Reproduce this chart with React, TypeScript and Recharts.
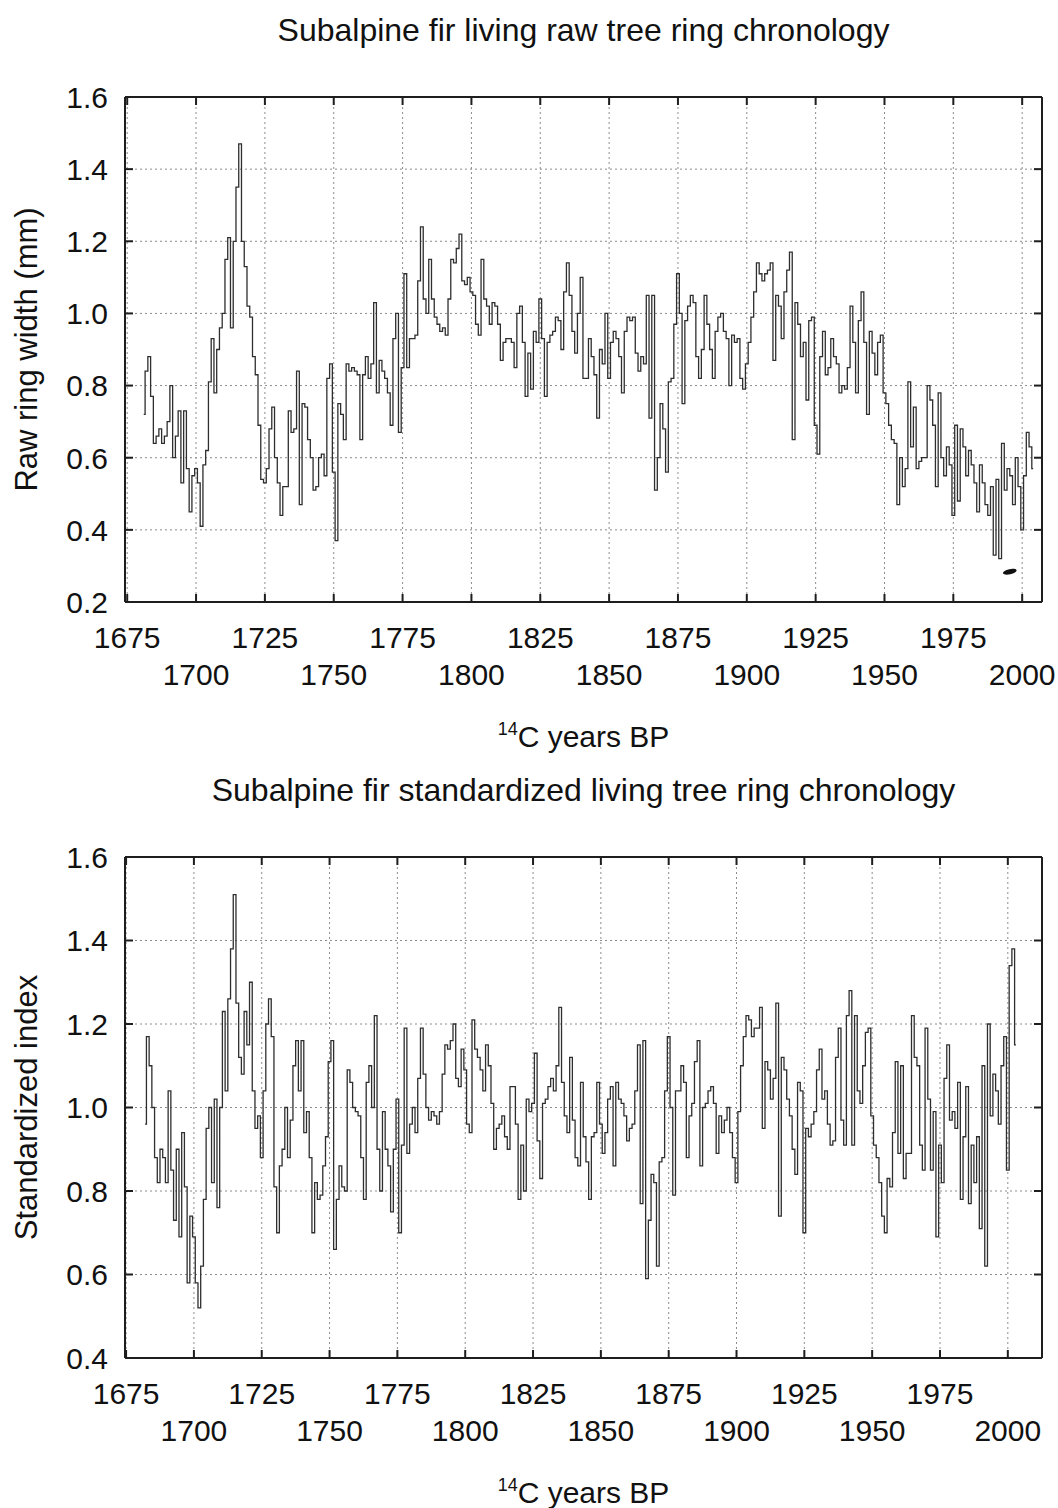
import { ComposedChart, Line, XAxis, YAxis, CartesianGrid, Label, ReferenceDot } from "recharts";

const FONT = "'Liberation Sans', Arial, Helvetica, sans-serif";

// years on the x axis
const yearTicks = [1675, 1700, 1725, 1750, 1775, 1800, 1825, 1850, 1875, 1900, 1925, 1950, 1975, 2000];

// raw ring width (mm), one value per year from 1681
const rawStartYear = 1681;
const rawWidth = [
  0.72, 0.84, 0.88, 0.77, 0.64, 0.66, 0.68, 0.64, 0.66, 0.70,
  0.80, 0.60, 0.66, 0.73, 0.53, 0.73, 0.57, 0.45, 0.55, 0.57,
  0.53, 0.41, 0.58, 0.62, 0.81, 0.93, 0.78, 0.90, 0.96, 1.00,
  1.15, 1.21, 0.96, 1.20, 1.35, 1.47, 1.20, 1.13, 1.02, 0.99,
  0.88, 0.83, 0.69, 0.54, 0.53, 0.57, 0.68, 0.74, 0.60, 0.53,
  0.44, 0.52, 0.52, 0.73, 0.67, 0.68, 0.84, 0.47, 0.75, 0.74,
  0.65, 0.60, 0.51, 0.52, 0.60, 0.61, 0.55, 0.82, 0.86, 0.56,
  0.37, 0.75, 0.72, 0.65, 0.86, 0.84, 0.85, 0.84, 0.83, 0.65,
  0.83, 0.88, 0.82, 0.86, 1.03, 0.78, 0.87, 0.84, 0.82, 0.78,
  0.69, 0.93, 1.00, 0.67, 0.85, 1.11, 0.85, 0.93, 0.93, 0.94,
  1.09, 1.24, 1.04, 1.00, 1.15, 1.04, 0.99, 0.97, 0.95, 0.96,
  0.94, 1.04, 1.15, 1.14, 1.18, 1.22, 1.09, 1.08, 1.10, 1.06,
  1.05, 0.97, 0.94, 1.15, 1.04, 1.02, 0.97, 1.03, 1.02, 0.97,
  0.87, 0.92, 0.93, 0.93, 0.92, 0.85, 1.00, 1.02, 0.92, 0.77,
  0.89, 0.79, 0.95, 0.92, 1.04, 0.93, 0.77, 0.92, 0.94, 0.95,
  0.99, 0.98, 0.90, 1.06, 1.14, 1.05, 0.95, 0.89, 1.00, 1.10,
  0.82, 0.82, 0.93, 0.88, 0.83, 0.71, 0.90, 0.86, 1.00, 0.82,
  0.92, 0.95, 0.93, 0.88, 0.78, 0.95, 0.99, 0.98, 0.99, 0.89,
  0.84, 0.88, 0.86, 1.05, 0.71, 1.05, 0.51, 0.60, 0.75, 0.68,
  0.56, 0.81, 0.82, 0.97, 1.11, 1.00, 0.75, 0.98, 1.02, 1.05,
  1.03, 0.88, 0.82, 0.90, 1.05, 0.97, 0.90, 0.82, 0.95, 0.99,
  1.00, 0.95, 0.93, 0.80, 0.94, 0.92, 0.93, 0.82, 0.79, 0.86,
  0.92, 0.99, 1.06, 1.14, 1.11, 1.09, 1.11, 1.12, 1.14, 0.87,
  1.05, 1.02, 0.93, 1.06, 1.12, 1.17, 0.65, 1.03, 0.97, 0.88,
  0.92, 0.76, 0.98, 0.99, 0.69, 0.61, 0.88, 0.95, 0.83, 0.85,
  0.93, 0.88, 0.86, 0.78, 0.80, 0.79, 0.85, 1.02, 0.92, 0.78,
  0.98, 1.06, 0.92, 0.72, 0.95, 0.89, 0.83, 0.92, 0.94, 0.78,
  0.75, 0.69, 0.65, 0.64, 0.47, 0.60, 0.52, 0.57, 0.81, 0.63,
  0.74, 0.57, 0.59, 0.60, 0.60, 0.80, 0.76, 0.69, 0.52, 0.78,
  0.60, 0.55, 0.63, 0.58, 0.44, 0.69, 0.48, 0.68, 0.63, 0.55,
  0.62, 0.58, 0.53, 0.45, 0.58, 0.53, 0.47, 0.44, 0.52, 0.33,
  0.54, 0.32, 0.64, 0.51, 0.57, 0.55, 0.47, 0.60, 0.52, 0.40,
  0.55, 0.67, 0.63, 0.57,
];
const rawTicks = [0.2, 0.4, 0.6, 0.8, 1.0, 1.2, 1.4, 1.6];
// stray ink mark near the lower right of the raw panel
const rawSpeck = [{ year: 1995.5, v: 0.284 }];

// standardized index, one value per year from 1682
const stdStartYear = 1682;
const stdIndex = [
  0.96, 1.17, 1.10, 1.00, 0.88, 0.82, 0.90, 0.88, 0.82,
  1.04, 0.85, 0.73, 0.90, 0.69, 0.94, 0.81, 0.58, 0.74, 0.69,
  0.58, 0.52, 0.62, 0.78, 0.95, 1.00, 0.82, 1.02, 0.76, 1.00,
  1.23, 1.04, 1.26, 1.38, 1.51, 1.25, 1.12, 1.08, 1.23, 1.15,
  1.30, 1.04, 0.95, 0.98, 0.88, 1.04, 1.20, 1.26, 1.17, 0.81,
  0.70, 0.86, 0.90, 1.00, 0.88, 0.97, 1.10, 1.16, 1.04, 1.16,
  0.94, 0.99, 0.88, 0.70, 0.82, 0.78, 0.79, 0.86, 0.93, 1.11,
  1.16, 0.66, 0.78, 0.86, 0.81, 0.80, 1.09, 1.06, 1.00, 0.99,
  0.98, 0.88, 0.78, 1.06, 1.10, 1.00, 1.22, 0.90, 0.80, 0.99,
  0.90, 0.86, 0.75, 0.90, 1.02, 0.70, 0.91, 1.19, 0.89, 0.96,
  1.00, 0.94, 1.07, 1.19, 1.08, 1.00, 0.97, 0.99, 0.98, 0.96,
  0.99, 1.08, 1.15, 1.14, 1.16, 1.20, 1.07, 1.05, 1.14, 1.09,
  0.96, 0.94, 1.21, 1.14, 1.12, 1.09, 1.04, 1.15, 1.10, 1.01,
  0.90, 0.95, 0.96, 0.98, 0.93, 0.90, 1.05, 1.05, 0.96, 0.78,
  0.91, 0.80, 1.02, 0.99, 1.01, 1.13, 0.92, 0.83, 1.01, 1.02,
  1.05, 1.07, 1.04, 1.10, 1.24, 1.06, 0.98, 0.94, 1.12, 0.97,
  0.88, 0.86, 1.06, 0.93, 0.87, 0.78, 0.93, 0.94, 1.06, 0.96,
  0.89, 0.94, 1.02, 1.05, 0.86, 1.06, 1.02, 1.01, 0.98, 0.92,
  0.95, 0.96, 1.04, 1.15, 0.77, 1.16, 0.59, 0.73, 0.84, 0.82,
  0.62, 0.87, 0.88, 1.04, 1.17, 1.00, 0.79, 1.04, 1.04, 1.10,
  1.06, 0.88, 0.98, 1.01, 1.11, 1.16, 0.86, 1.00, 1.01, 1.04,
  1.05, 1.01, 0.89, 0.98, 0.94, 0.97, 1.00, 0.94, 0.88, 0.82,
  0.99, 1.10, 1.17, 1.22, 1.21, 1.17, 1.19, 1.19, 1.24, 0.95,
  1.11, 1.09, 1.02, 1.07, 1.25, 0.74, 1.12, 1.09, 1.02, 0.98,
  0.90, 0.84, 1.06, 1.04, 0.70, 0.95, 0.93, 0.96, 0.99, 1.09,
  1.14, 1.02, 1.04, 0.96, 0.91, 0.92, 1.12, 1.19, 0.97, 0.91,
  1.22, 1.28, 0.91, 1.22, 1.04, 1.01, 1.10, 1.18, 1.19, 0.98,
  0.91, 0.88, 0.82, 0.74, 0.70, 0.83, 0.81, 0.94, 1.11, 0.89,
  1.10, 0.83, 0.89, 0.89, 1.22, 1.12, 1.10, 0.91, 0.85, 1.19,
  1.02, 0.85, 0.99, 0.69, 0.91, 0.82, 1.07, 1.15, 0.97, 0.99,
  0.95, 1.06, 0.78, 0.93, 1.05, 0.77, 0.91, 0.82, 0.93, 0.71,
  1.10, 0.62, 1.20, 0.98, 1.08, 1.04, 0.96, 1.10, 1.17, 0.85,
  1.34, 1.38, 1.15,
];
const stdTicks = [0.4, 0.6, 0.8, 1.0, 1.2, 1.4, 1.6];

const toRows = (start: number, vals: number[]) => vals.map((v, i) => ({ year: start + i, v }));

const INK = "#1e1e1e";

function BottomTick(props: any) {
  const { x, y, payload } = props;
  const upper = ((payload.value - 1675) / 25) % 2 === 0;
  return (
    <g>
      <line x1={x} x2={x} y1={y} y2={y - 8} stroke={INK} strokeWidth={2} />
      <text x={x} y={y + (upper ? 46 : 83)} textAnchor="middle" fontSize={30} fontFamily={FONT} fill="#111">
        {payload.value}
      </text>
    </g>
  );
}

function TopTick(props: any) {
  const { x, y } = props;
  return <line x1={x} x2={x} y1={y} y2={y + 8} stroke={INK} strokeWidth={2} />;
}

function LeftTick(props: any) {
  const { x, y, payload } = props;
  return (
    <g>
      <line x1={x} x2={x + 8} y1={y} y2={y} stroke={INK} strokeWidth={2} />
      <text x={x - 17} y={y} dy="0.36em" textAnchor="end" fontSize={30} fontFamily={FONT} fill="#111">
        {Number(payload.value).toFixed(1)}
      </text>
    </g>
  );
}

function RightTick(props: any) {
  const { x, y } = props;
  return <line x1={x} x2={x - 8} y1={y} y2={y} stroke={INK} strokeWidth={2} />;
}

type PanelProps = {
  data: { year: number; v: number }[];
  title: string;
  yLabel: string;
  xDomain: [number, number];
  yTicks: number[];
  height: number;
  plotTop: number;
  plotBottom: number;
  specks?: { year: number; v: number }[];
};

function Panel({ data, title, yLabel, xDomain, yTicks, height, plotTop, plotBottom, specks = [] }: PanelProps) {
  const yDomain: [number, number] = [yTicks[0], yTicks[yTicks.length - 1]];
  const axisLine = { stroke: INK, strokeWidth: 2 };
  return (
    <div style={{ position: "relative", width: 1058, height }}>
      <div
        style={{
          position: "absolute",
          left: 125,
          width: 917,
          top: plotTop - 83,
          textAlign: "center",
          fontFamily: FONT,
          fontSize: 32,
          lineHeight: "32px",
          color: "#111",
          whiteSpace: "nowrap",
        }}
      >
        {title}
      </div>
      <ComposedChart width={1058} height={height} data={data} margin={{ top: plotTop - 1, right: 15, bottom: 0, left: 0 }}>
        <CartesianGrid stroke="#8c8c8c" strokeDasharray="2 3" strokeWidth={1} />
        <XAxis
          dataKey="year"
          type="number"
          domain={xDomain}
          ticks={yearTicks}
          interval={0}
          allowDataOverflow
          height={height - plotBottom}
          tickSize={0}
          tickMargin={0}
          tickLine={false}
          axisLine={axisLine}
          tick={<BottomTick />}
        >
          <Label
            content={(p: any) => {
              const vb = p.viewBox;
              return (
                <text x={vb.x + vb.width / 2} y={vb.y + 145} textAnchor="middle" fontSize={30} fontFamily={FONT} fill="#111">
                  <tspan fontSize={18} dy={-12}>14</tspan>
                  <tspan dy={12}>C years BP</tspan>
                </text>
              );
            }}
          />
        </XAxis>
        <XAxis
          xAxisId="top"
          orientation="top"
          dataKey="year"
          type="number"
          domain={xDomain}
          ticks={yearTicks}
          interval={0}
          allowDataOverflow
          height={1}
          tickSize={0}
          tickMargin={0}
          tickLine={false}
          axisLine={axisLine}
          tick={<TopTick />}
        />
        <YAxis
          type="number"
          domain={yDomain}
          ticks={yTicks}
          interval={0}
          allowDataOverflow
          width={125}
          tickSize={0}
          tickMargin={0}
          tickLine={false}
          axisLine={axisLine}
          tick={<LeftTick />}
        >
          <Label
            content={(p: any) => {
              const vb = p.viewBox;
              const cy = vb.y + vb.height / 2;
              return (
                <text x={37} y={cy} transform={`rotate(-90 37 ${cy})`} textAnchor="middle" fontSize={31} fontFamily={FONT} fill="#111">
                  {yLabel}
                </text>
              );
            }}
          />
        </YAxis>
        <YAxis
          yAxisId="right"
          orientation="right"
          type="number"
          domain={yDomain}
          ticks={yTicks}
          interval={0}
          allowDataOverflow
          width={1}
          tickSize={0}
          tickMargin={0}
          tickLine={false}
          axisLine={axisLine}
          tick={<RightTick />}
        />
        <Line type="step" dataKey="v" stroke="#2e2e2e" strokeWidth={1.3} dot={false} isAnimationActive={false} />
        {specks.map((s, i) => (
          <ReferenceDot
            key={i}
            x={s.year}
            y={s.v}
            shape={(p: any) => (
              <ellipse cx={p.cx} cy={p.cy} rx={7} ry={2.6} transform={`rotate(-12 ${p.cx} ${p.cy})`} fill="#111" />
            )}
          />
        ))}
      </ComposedChart>
    </div>
  );
}

export default function App() {
  return (
    <div style={{ position: "absolute", left: 0, top: 0, width: 1058, height: 1508, background: "#fff" }}>
      <Panel
        data={toRows(rawStartYear, rawWidth)}
        title="Subalpine fir living raw tree ring chronology"
        yLabel="Raw ring width (mm)"
        xDomain={[1674.2, 2007.2]}
        yTicks={rawTicks}
        height={754}
        plotTop={97}
        plotBottom={602}
        specks={rawSpeck}
      />
      <Panel
        data={toRows(stdStartYear, stdIndex)}
        title="Subalpine fir standardized living tree ring chronology"
        yLabel="Standardized index"
        xDomain={[1674.6, 2012.6]}
        yTicks={stdTicks}
        height={754}
        plotTop={103}
        plotBottom={604}
      />
    </div>
  );
}
